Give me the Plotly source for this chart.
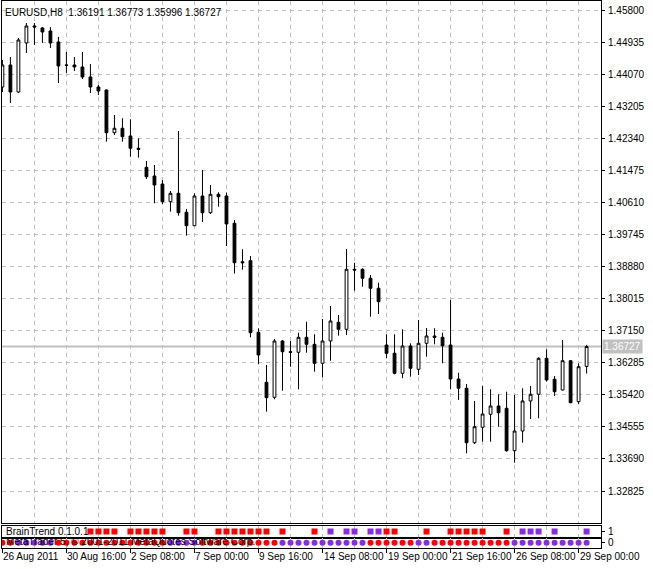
import plotly.graph_objects as go

# ---------------- data ----------------
symbol = "EURUSD"
timeframe = "H8"
bars = list(range(74))
opens = [1.43738, 1.44333, 1.43603, 1.44927, 1.45386, 1.45332, 1.45251, 1.44954, 1.44333, 1.44333,
         1.44279, 1.44009, 1.43738, 1.43657, 1.42504, 1.42623, 1.42415, 1.42083, 1.41569, 1.41334,
         1.41118, 1.40640, 1.40867, 1.40354, 1.39992, 1.40794, 1.40343, 1.40840, 1.40794, 1.40057,
         1.39019, 1.39046, 1.37112, 1.35762, 1.35357, 1.36877, 1.36588, 1.36572, 1.36977, 1.36788,
         1.36275, 1.36877, 1.37382, 1.37193, 1.38814, 1.38814, 1.38571, 1.38301, 1.36769, 1.36545,
         1.36005, 1.36742, 1.36113, 1.36815, 1.37012, 1.36977, 1.36769, 1.35851, 1.35600, 1.34130,
         1.34546, 1.34897, 1.35122, 1.35059, 1.33914, 1.34446, 1.35257, 1.35438, 1.36410, 1.35843,
         1.35554, 1.36345, 1.35238, 1.36191]
highs = [1.44468, 1.44549, 1.45062, 1.45467, 1.45467, 1.45359, 1.45359, 1.45089, 1.44684, 1.44549,
         1.44684, 1.44360, 1.43792, 1.43676, 1.42982, 1.42893, 1.42866, 1.42353, 1.41740, 1.41631,
         1.41226, 1.40929, 1.42550, 1.40443, 1.40867, 1.41496, 1.41091, 1.40894, 1.40888, 1.40146,
         1.39357, 1.39173, 1.37220, 1.36229, 1.36931, 1.36904, 1.36877, 1.37102, 1.37399, 1.37058,
         1.37472, 1.37823, 1.37580, 1.39362, 1.38992, 1.38841, 1.38660, 1.38452, 1.37058, 1.37058,
         1.37193, 1.36815, 1.37445, 1.37229, 1.37220, 1.37102, 1.37985, 1.36021, 1.35716, 1.35257,
         1.35662, 1.35573, 1.35438, 1.35508, 1.35419, 1.35600, 1.35662, 1.36437, 1.36653, 1.35932,
         1.36904, 1.36360, 1.36275, 1.36773]
lows = [1.43603, 1.43306, 1.43576, 1.44657, 1.44873, 1.44927, 1.44792, 1.43846, 1.44117, 1.44171,
        1.43954, 1.43576, 1.43522, 1.42261, 1.42442, 1.42261, 1.41856, 1.41829, 1.41253, 1.40597,
        1.40578, 1.40370, 1.40262, 1.39722, 1.39980, 1.40092, 1.40308, 1.40505, 1.39443, 1.38701,
        1.38803, 1.36977, 1.36256, 1.34968, 1.35303, 1.35535, 1.36183, 1.35573, 1.36561, 1.36048,
        1.35897, 1.36345, 1.37021, 1.37039, 1.38236, 1.38344, 1.37534, 1.37607, 1.36410, 1.35978,
        1.35870, 1.35913, 1.35959, 1.36453, 1.36788, 1.36275, 1.35573, 1.35284, 1.33844, 1.34095,
        1.34157, 1.34157, 1.34562, 1.33887, 1.33590, 1.34130, 1.34770, 1.34789, 1.35778, 1.35392,
        1.35540, 1.35195, 1.35176, 1.35996]
closes = [1.44333, 1.43603, 1.45008, 1.45386, 1.45359, 1.45224, 1.44927, 1.44306, 1.44325, 1.44279,
          1.44009, 1.43738, 1.43630, 1.42504, 1.42623, 1.42396, 1.42083, 1.42056, 1.41315, 1.41091,
          1.40640, 1.40867, 1.40343, 1.39992, 1.40794, 1.40343, 1.40840, 1.40775, 1.40038, 1.38992,
          1.38992, 1.37102, 1.36499, 1.35346, 1.36877, 1.36588, 1.36572, 1.36977, 1.36788, 1.36275,
          1.36877, 1.37418, 1.37193, 1.38814, 1.38795, 1.38571, 1.38301, 1.37939, 1.36545, 1.36005,
          1.36742, 1.36140, 1.36815, 1.37012, 1.36977, 1.36750, 1.35851, 1.35600, 1.34130, 1.34562,
          1.34905, 1.35122, 1.34941, 1.33914, 1.34446, 1.35257, 1.35438, 1.36410, 1.35824, 1.35508,
          1.36345, 1.35211, 1.36183, 1.36727]

x_tick_pos = [0, 8, 16, 24, 32, 40, 48, 56, 64, 72]
x_tick_labels = ["26 Aug 2011", "30 Aug 16:00", "2 Sep 08:00", "7 Sep 00:00", "9 Sep 16:00",
                 "14 Sep 08:00", "19 Sep 00:00", "21 Sep 16:00", "26 Sep 08:00", "29 Sep 00:00"]
x_grid_minor = [4, 12, 20, 28, 36, 44, 52, 60, 68]
price_ticks = [1.45800, 1.44935, 1.44070, 1.43205, 1.42340, 1.41475, 1.40610, 1.39745,
               1.38880, 1.38015, 1.37150, 1.36285, 1.35420, 1.34555, 1.33690, 1.32825]

signal_bars = [11, 12, 13, 14, 16, 17, 18, 19, 20, 23, 24, 27, 28, 29, 30, 31, 32, 33, 35, 39,
               41, 43, 44, 46, 47, 48, 49, 53, 56, 57, 58, 59, 60, 63, 65, 66, 67, 69, 73]
signal_kind = ["R", "R", "R", "R", "R", "R", "R", "R", "R", "R", "R", "R", "R", "R", "R", "R", "R", "R", "R", "R",
               "P", "P", "P", "P", "P", "R", "R", "R", "R", "R", "R", "R", "R", "R", "P", "P", "P", "P", "P"]
trend_kind = ["R", "R", "P", "P", "P", "P", "P", "R", "R", "R",
              "R", "R", "R", "R", "R", "R", "R", "R", "R", "R",
              "R", "P", "P", "P", "P", "R", "R", "R", "R", "R",
              "R", "R", "R", "R", "R", "P", "P", "P", "P", "P",
              "P", "P", "P", "P", "P", "P", "R", "R", "R", "R",
              "R", "R", "P", "P", "R", "R", "R", "R", "R", "R",
              "R", "R", "R", "R", "P", "P", "P", "P", "P", "P",
              "P", "P", "P", "P"]

# ---------------- styling ----------------
RED = "#FF0000"
PURPLE = "#8A2BE2"
kind_color = {"R": RED, "P": PURPLE}
GRID = "#C0C0C0"
FONT = "Liberation Sans, Arial, sans-serif"
FS = 10

W, H = 653, 569
m_l, m_r, m_t, m_b = 2, 52, 1, 21
plot_h = H - m_t - m_b
bottom_px = H - m_b


def py(px):
    return (bottom_px - px) / plot_h


main_dom = [py(523), 1.0]
sub1_dom = [py(537.5), py(525.5)]
sub2_dom = [0.0, py(537.5)]

fig = go.Figure()
fig.add_trace(go.Candlestick(
    x=bars, open=opens, high=highs, low=lows, close=closes,
    increasing=dict(line=dict(color="black", width=1), fillcolor="white"),
    decreasing=dict(line=dict(color="black", width=1), fillcolor="black"),
    whiskerwidth=0, hoverinfo="skip", showlegend=False, xaxis="x", yaxis="y"))

fig.add_trace(go.Scatter(
    x=signal_bars, y=[1] * len(signal_bars), mode="markers",
    marker=dict(symbol="square", size=6, color=[kind_color[k] for k in signal_kind],
                line=dict(width=0)),
    hoverinfo="skip", showlegend=False, xaxis="x2", yaxis="y2"))

fig.add_trace(go.Scatter(
    x=bars, y=[0] * len(bars), mode="markers",
    marker=dict(symbol="circle", size=6, color=[kind_color[k] for k in trend_kind],
                line=dict(width=0)),
    hoverinfo="skip", showlegend=False, xaxis="x3", yaxis="y3"))

xrange = [-0.05, 74.8]


def xaxis(anchor, ticks):
    return dict(
        domain=[0, 1], anchor=anchor, range=xrange, fixedrange=True,
        showline=True, linecolor="black", linewidth=1, mirror=True, zeroline=False,
        tickmode="array", tickvals=x_tick_pos, showticklabels=False,
        ticks=ticks, ticklen=4, tickcolor="black", tickwidth=1,
        showgrid=True, gridcolor=GRID, griddash="4px,4px", gridwidth=1,
        minor=dict(tickmode="array", tickvals=x_grid_minor, showgrid=True, gridcolor=GRID,
                   griddash="4px,4px", gridwidth=1, ticks=""),
        rangeslider=dict(visible=False),
    )


current_price = closes[-1]
ymin, ymax = 1.31961, 1.46061

fig.update_layout(
    width=W, height=H,
    margin=dict(l=m_l, r=m_r, t=m_t, b=m_b, pad=0, autoexpand=False),
    paper_bgcolor="white", plot_bgcolor="white",
    font=dict(family=FONT, size=FS, color="black"),
    boxgap=0.5,
    showlegend=False,
    xaxis=xaxis("y", ""),
    xaxis2=xaxis("y2", ""),
    xaxis3=xaxis("y3", "outside"),
    yaxis=dict(
        domain=main_dom, anchor="x", side="right", range=[ymin, ymax], fixedrange=True,
        tickmode="array", tickvals=price_ticks, ticktext=[f"{v:.5f}" for v in price_ticks],
        ticks="outside", ticklen=3, tickcolor="black", tickwidth=1,
        showline=True, linecolor="black", linewidth=1, mirror=True, zeroline=False,
        showgrid=True, gridcolor=GRID, griddash="4px,4px", gridwidth=1,
        ticklabelstandoff=1,
    ),
    yaxis2=dict(
        domain=sub1_dom, anchor="x2", side="right", range=[0.5, 1.5], fixedrange=True,
        tickmode="array", tickvals=[1], ticktext=["1"],
        ticks="outside", ticklen=3, tickcolor="black",
        showline=True, linecolor="black", linewidth=1, mirror=True, zeroline=False,
        showgrid=False, ticklabelstandoff=1,
    ),
    yaxis3=dict(
        domain=sub2_dom, anchor="x3", side="right", range=[-0.5, 0.5], fixedrange=True,
        tickmode="array", tickvals=[0], ticktext=["0"],
        ticks="outside", ticklen=3, tickcolor="black",
        showline=True, linecolor="black", linewidth=1, mirror=True, zeroline=False,
        showgrid=False, ticklabelstandoff=1,
    ),
)

# current price line
fig.add_shape(type="line", xref="x", yref="y", x0=xrange[0], x1=xrange[1],
              y0=current_price, y1=current_price, line=dict(color=GRID, width=2), layer="below")

annotations = []
# header
annotations.append(dict(
    xref="paper", yref="paper", x=0, y=py(12.5), xanchor="left", yanchor="middle", xshift=2,
    text=f"{symbol},{timeframe}  {opens[-1]:.5f} {highs[-1]:.5f} {lows[-1]:.5f} {closes[-1]:.5f}",
    showarrow=False, font=dict(family=FONT, size=FS, color="black"), borderpad=0))
# price label
annotations.append(dict(
    xref="paper", yref="y", x=1, y=current_price, xanchor="left", yanchor="middle", xshift=1,
    text=f"{current_price:.5f}", showarrow=False, bgcolor=GRID,
    font=dict(family=FONT, size=FS, color="white"), borderpad=1))
# x labels
for p, t in zip(x_tick_pos, x_tick_labels):
    annotations.append(dict(
        xref="x3", yref="paper", x=p, y=0, xanchor="left", yanchor="top", xshift=-1, yshift=-1,
        text=t, showarrow=False, font=dict(family=FONT, size=FS, color="black")))
# indicator names
annotations.append(dict(
    xref="paper", yref="paper", x=0, y=py(531), xanchor="left", yanchor="middle", xshift=2,
    text="BrainTrend 0.1.0.1", showarrow=False, font=dict(family=FONT, size=FS, color="black")))
annotations.append(dict(
    xref="paper", yref="paper", x=0, y=py(541.5), xanchor="left", yanchor="middle", xshift=2,
    text="MetaTrader 5, \u00a9 2001-2011 MetaQuotes Software Corp.", showarrow=False,
    font=dict(family=FONT, size=FS, color="black")))
fig.update_layout(annotations=annotations)

fig.write_html("out.html", config={"displayModeBar": False},
               post_script="document.body.style.margin='0px';document.body.style.padding='0px';")
